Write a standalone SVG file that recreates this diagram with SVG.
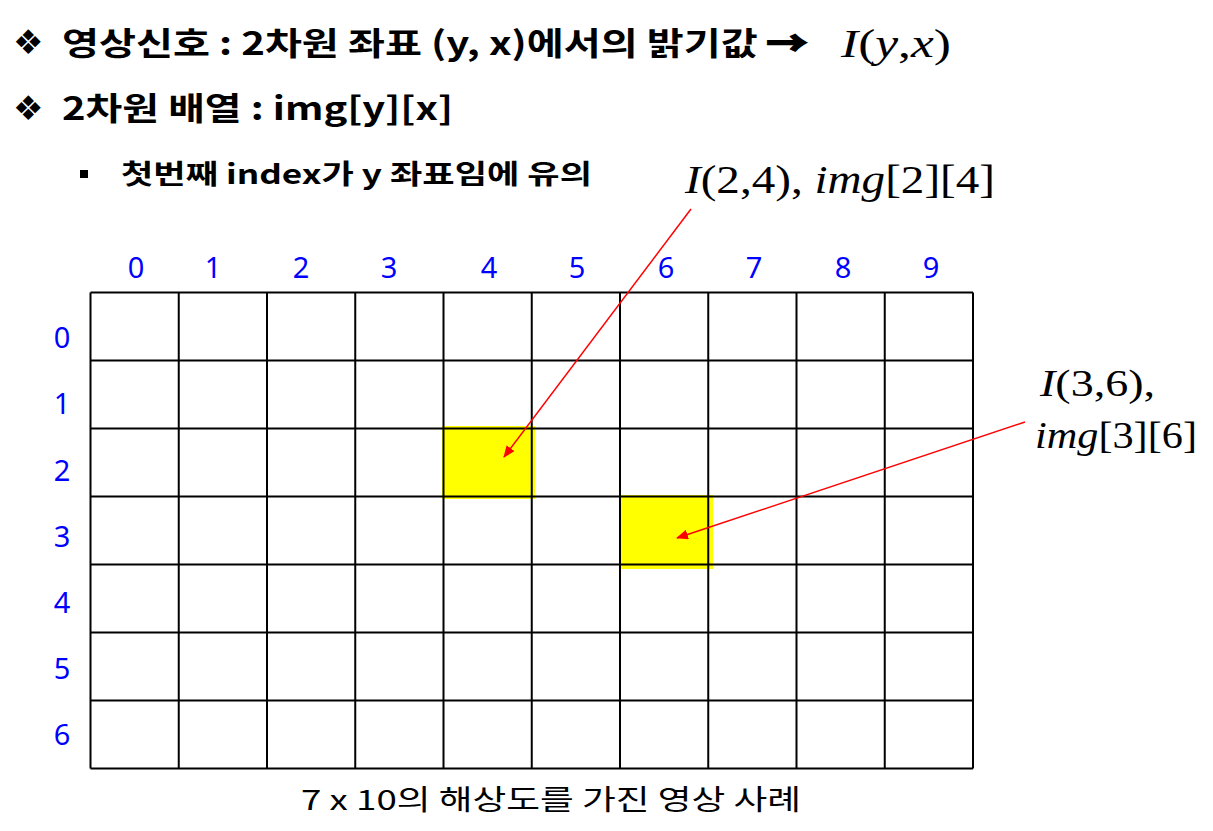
<svg xmlns="http://www.w3.org/2000/svg" width="1213" height="831" viewBox="0 0 1213 831">
<style>
.hd{font-family:"Noto Sans CJK KR","Noto Sans",sans-serif;font-weight:bold;fill:#000;}
.bul{font-family:"DejaVu Sans",sans-serif;fill:#000;}
.math{font-family:"Liberation Serif","Times New Roman",serif;fill:#000;}
.it{font-style:italic;}
.idx{font-family:"Noto Sans","Open Sans",sans-serif;font-size:29px;fill:#0000FF;text-anchor:middle;}
.cap{font-family:"Noto Sans CJK KR",sans-serif;font-size:28px;fill:#000;}
.grid line{stroke:#000;stroke-width:2;}
.hl{fill:#FFFF00;}
.arr{stroke:#FF0000;stroke-width:1.5;fill:none;marker-end:url(#ah);}
</style>
<defs>
<marker id="ah" viewBox="0 0 12 10" refX="11" refY="5" markerWidth="12" markerHeight="10" markerUnits="userSpaceOnUse" orient="auto">
<path d="M0,0 L12,5 L0,10 Z" fill="#FF0000"/>
</marker>
</defs>
<rect width="1213" height="831" fill="#fff"/>

<g id="heading1">
<text class="bul" x="13" y="54" font-size="34">❖</text>
<text class="hd" x="62" y="55" font-size="32" textLength="745" lengthAdjust="spacingAndGlyphs">영상신호 : 2차원 좌표 (y, x)에서의 밝기값 <tspan stroke="#000" stroke-width="2.2">→</tspan></text>
<text class="math" x="841" y="57" font-size="41" textLength="110" lengthAdjust="spacingAndGlyphs"><tspan class="it">I</tspan>(<tspan class="it">y</tspan>,<tspan class="it">x</tspan>)</text>
</g>

<g id="heading2">
<text class="bul" x="13" y="120" font-size="34">❖</text>
<text class="hd" x="62" y="120" font-size="32" textLength="391" lengthAdjust="spacingAndGlyphs">2차원 배열 : img[y][x]</text>
</g>

<g id="heading3">
<rect x="80" y="170" width="8" height="8" fill="#000"/>
<text class="hd" x="121" y="184" font-size="27" textLength="471" lengthAdjust="spacingAndGlyphs">첫번째 index가 y 좌표임에 유의</text>
</g>

<g id="highlights">
<rect class="hl" x="442" y="426" width="93" height="73"/>
<rect class="hl" x="620" y="495" width="93" height="74"/>
</g>

<g id="grid" class="grid">
<line x1="90.5" y1="292.5" x2="90.5" y2="768.5"/>
<line x1="178.75" y1="292.5" x2="178.75" y2="768.5"/>
<line x1="267" y1="292.5" x2="267" y2="768.5"/>
<line x1="355.25" y1="292.5" x2="355.25" y2="768.5"/>
<line x1="443.5" y1="292.5" x2="443.5" y2="768.5"/>
<line x1="531.75" y1="292.5" x2="531.75" y2="768.5"/>
<line x1="620" y1="292.5" x2="620" y2="768.5"/>
<line x1="708.25" y1="292.5" x2="708.25" y2="768.5"/>
<line x1="796.5" y1="292.5" x2="796.5" y2="768.5"/>
<line x1="884.75" y1="292.5" x2="884.75" y2="768.5"/>
<line x1="973" y1="292.5" x2="973" y2="768.5"/>
<line x1="90.5" y1="292.5" x2="973" y2="292.5"/>
<line x1="90.5" y1="360.5" x2="973" y2="360.5"/>
<line x1="90.5" y1="428.5" x2="973" y2="428.5"/>
<line x1="90.5" y1="496.5" x2="973" y2="496.5"/>
<line x1="90.5" y1="564.5" x2="973" y2="564.5"/>
<line x1="90.5" y1="632.5" x2="973" y2="632.5"/>
<line x1="90.5" y1="700.5" x2="973" y2="700.5"/>
<line x1="90.5" y1="768.5" x2="973" y2="768.5"/>
</g>

<g id="col-labels">
<text class="idx" x="136" y="278">0</text>
<text class="idx" x="213" y="278">1</text>
<text class="idx" x="301" y="278">2</text>
<text class="idx" x="389" y="278">3</text>
<text class="idx" x="489" y="278">4</text>
<text class="idx" x="577" y="278">5</text>
<text class="idx" x="666" y="278">6</text>
<text class="idx" x="754" y="278">7</text>
<text class="idx" x="843" y="278">8</text>
<text class="idx" x="931" y="278">9</text>
</g>

<g id="row-labels">
<text class="idx" x="62" y="348">0</text>
<text class="idx" x="62" y="414">1</text>
<text class="idx" x="62" y="481">2</text>
<text class="idx" x="62" y="547">3</text>
<text class="idx" x="62" y="613">4</text>
<text class="idx" x="62" y="679">5</text>
<text class="idx" x="62" y="745">6</text>
</g>

<g id="label-24">
<text class="math" x="685" y="193" font-size="40" textLength="310" lengthAdjust="spacingAndGlyphs"><tspan class="it">I</tspan>(2,4),  <tspan class="it">img</tspan>[2][4]</text>
</g>

<g id="label-36">
<text class="math" x="1040" y="396" font-size="37" textLength="115" lengthAdjust="spacingAndGlyphs"><tspan class="it">I</tspan>(3,6),</text>
<text class="math" x="1035" y="448" font-size="37" textLength="162" lengthAdjust="spacingAndGlyphs"><tspan class="it">img</tspan>[3][6]</text>
</g>

<g id="caption">
<text class="cap" x="301" y="810" textLength="500" lengthAdjust="spacingAndGlyphs">7 x 10의 해상도를 가진 영상 사례</text>
</g>

<g id="connectors">
<line class="arr" x1="691" y1="209" x2="504" y2="457"/>
<line class="arr" x1="1025" y1="422" x2="677" y2="538"/>
</g>
</svg>
